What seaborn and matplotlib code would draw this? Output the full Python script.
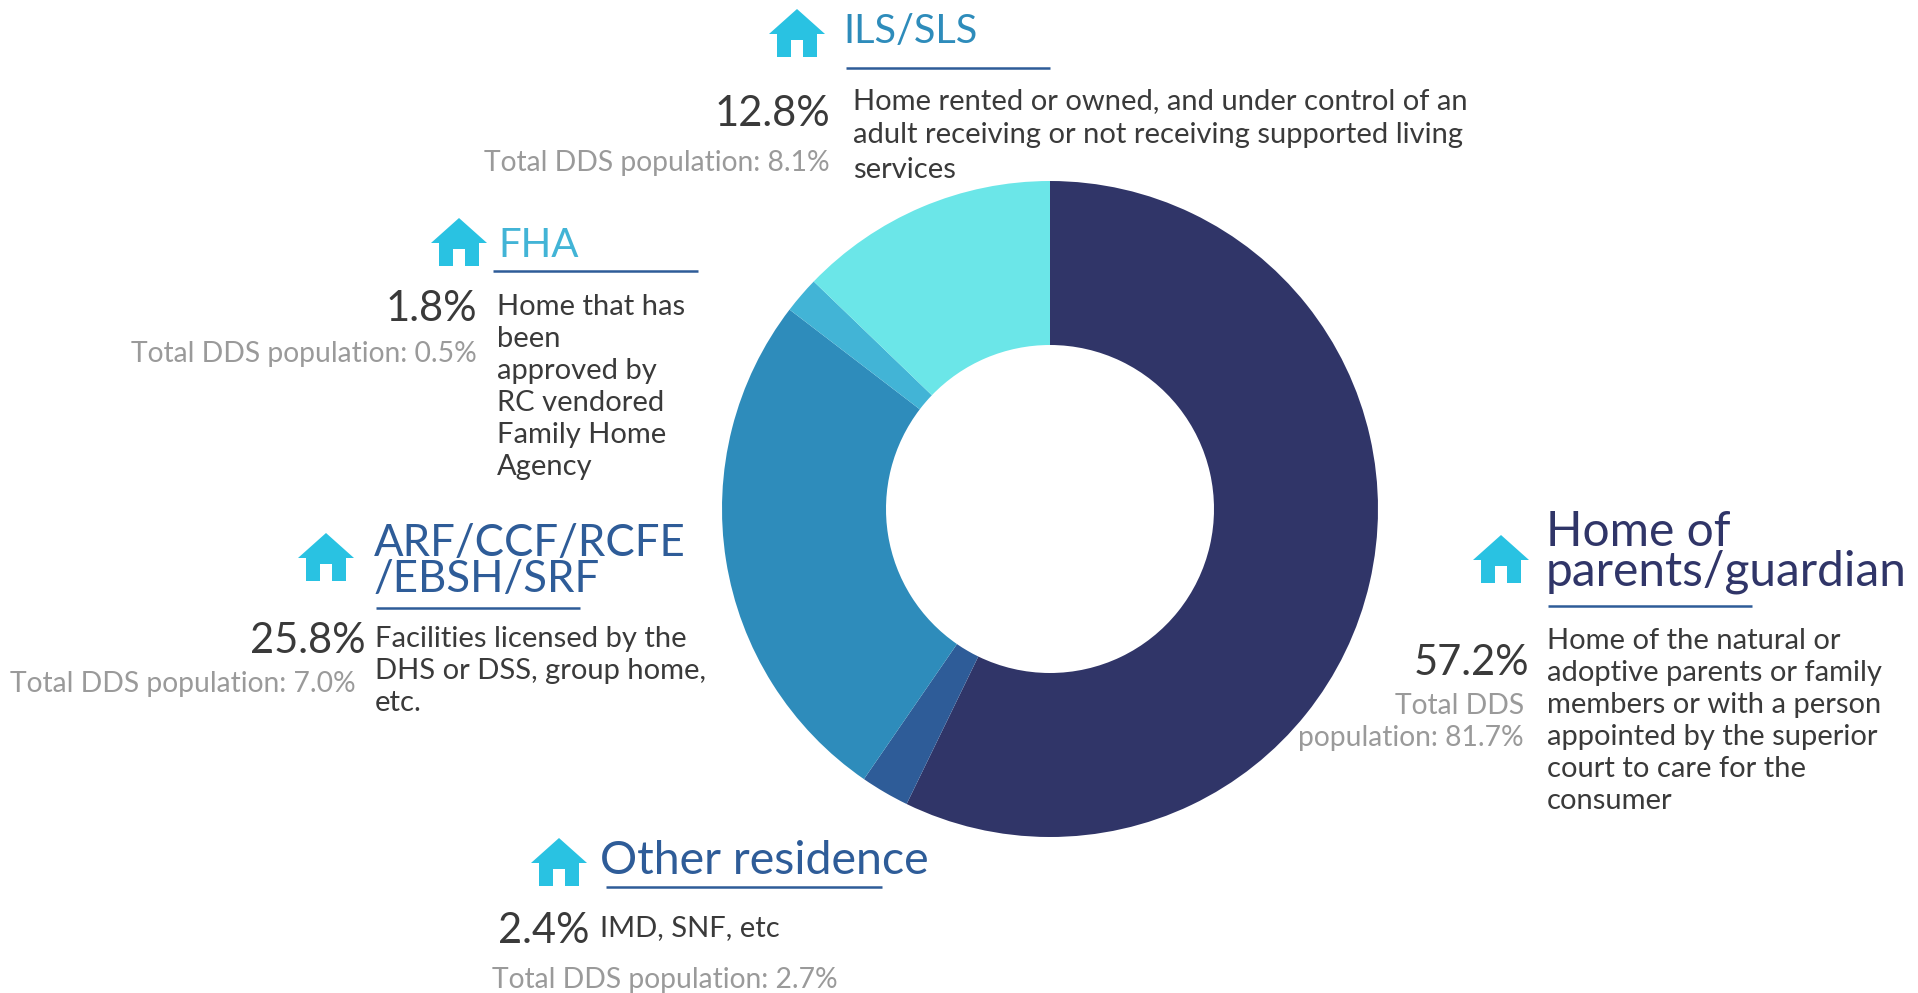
import matplotlib
matplotlib.use("Agg")
import matplotlib.pyplot as plt
from matplotlib.patches import Polygon
import seaborn as sns

categories = ["Home of\nparents/guardian", "Other residence", "ARF/CCF/RCFE\n/EBSH/SRF", "FHA", "ILS/SLS"]
shares = [57.2, 2.4, 25.8, 1.8, 12.8]
share_labels = ["57.2%", "2.4%", "25.8%", "1.8%", "12.8%"]
dds_labels = [
    "Total DDS\npopulation: 81.7%",
    "Total DDS population: 2.7%",
    "Total DDS population: 7.0%",
    "Total DDS population: 0.5%",
    "Total DDS population: 8.1%",
]
descriptions = [
    "Home of the natural or\nadoptive parents or family\nmembers or with a person\nappointed by the superior\ncourt to care for the\nconsumer",
    "IMD, SNF, etc",
    "Facilities licensed by the\nDHS or DSS, group home,\netc.",
    "Home that has\nbeen\napproved by\nRC vendored\nFamily Home\nAgency",
    "Home rented or owned, and under control of an\nadult receiving or not receiving supported living\nservices",
]
colors = ["#303568", "#2E5C98", "#2E8CBB", "#42B4D6", "#6BE6E8"]
title_colors = ["#303568", "#2E5C98", "#2E5C98", "#42B4D6", "#2E8CBB"]

ICON = "#29C2E2"
RULE = "#2E5C98"
DARK = "#3A3A3A"
GREY = "#9A9A9A"
W, H = 1918, 993

# layout in pixels: title x, last title baseline, title size, rule y, rule end, icon x, icon top,
# share right, share base, grey right, grey base, text x, text base, line pitch
layout = [
    dict(tx=1546, ty=585, ts=34.5, ry=606, rx=(1548, 1752), ix=1501, it=535, sx=1529, sy=675,
         gx=1524, gy=714, dx=1547, dy=649, pitch=32),
    dict(tx=600, ty=874, ts=33.5, ry=887, rx=(606, 882), ix=559, it=838, sx=589, sy=943,
         gx=838, gy=988, dx=600, dy=936, pitch=32),
    dict(tx=374, ty=592, ts=31.5, ry=608, rx=(376, 580), ix=326, it=533, sx=366, sy=653,
         gx=356, gy=692, dx=375, dy=647, pitch=32),
    dict(tx=498, ty=257, ts=29, ry=271, rx=(493, 698), ix=459, it=218, sx=477, sy=321,
         gx=477, gy=362, dx=497, dy=315, pitch=32),
    dict(tx=843, ty=43, ts=28.5, ry=68, rx=(846, 1050), ix=797, it=9, sx=830, sy=126,
         gx=830, gy=171, dx=853, dy=109, pitch=34.5),
]

sns.set_theme(style="white")
plt.rcParams["font.family"] = ["Lato", "DejaVu Sans"]

fig = plt.figure(figsize=(W / 100, H / 100), dpi=100, facecolor="white")

# donut
cx, cy, r = 1050, 509, 328
pie_ax = fig.add_axes([(cx - r) / W, 1 - (cy + r) / H, 2 * r / W, 2 * r / H])
pie_ax.pie(shares, colors=colors, startangle=90, counterclock=False, radius=1,
           wedgeprops=dict(width=0.5, linewidth=0))
pie_ax.set_xlim(-1, 1)
pie_ax.set_ylim(-1, 1)

# overlay in pixel coordinates for the callouts
ax = fig.add_axes([0, 0, 1, 1])
ax.set_xlim(0, W)
ax.set_ylim(H, 0)
ax.axis("off")
ax.patch.set_alpha(0)


def house(ax, x, top):
    pts = [(0, 0), (28, 25), (20, 25), (20, 48), (6, 48), (6, 31), (-6, 31), (-6, 48),
           (-20, 48), (-20, 25), (-28, 25)]
    ax.add_patch(Polygon([(x + a, top + b) for a, b in pts], closed=True, fc=ICON, ec="none"))


def lines(ax, x, y, txt, pitch, **kw):
    for i, part in enumerate(txt.split("\n")):
        ax.text(x, y + i * pitch, part, va="baseline", **kw)


for i, pos in enumerate(layout):
    house(ax, pos["ix"], pos["it"])
    # one text per title, anchored on the baseline of its last line
    ax.text(pos["tx"], pos["ty"], categories[i], ha="left", va="baseline", fontsize=pos["ts"],
            color=title_colors[i], linespacing=0.85)
    ax.plot(pos["rx"], [pos["ry"], pos["ry"]], color=RULE, lw=1.8, solid_capstyle="butt")
    ax.text(pos["sx"], pos["sy"], share_labels[i], ha="right", va="baseline", fontsize=30,
            color=DARK)
    lines(ax, pos["gx"], pos["gy"], dds_labels[i], 32, ha="right", fontsize=20.3,
          color=GREY)
    lines(ax, pos["dx"], pos["dy"], descriptions[i], pos["pitch"], ha="left", fontsize=21,
          color=DARK)

fig.savefig("out.png", dpi=100)
